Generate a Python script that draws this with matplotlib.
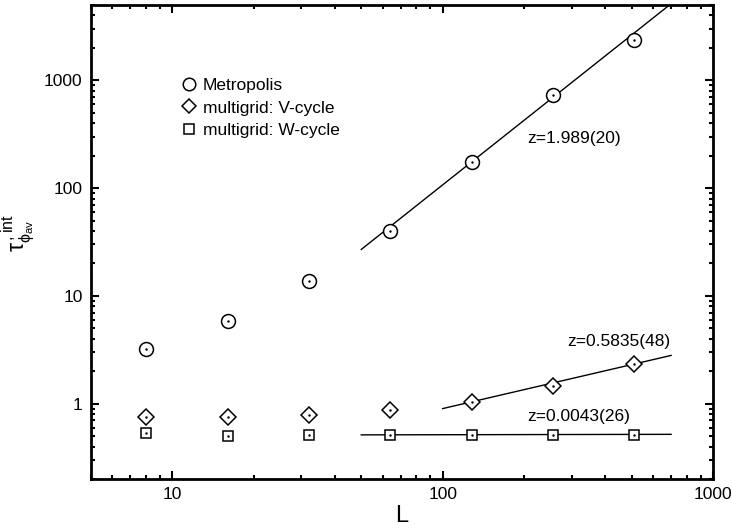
import matplotlib
matplotlib.use('Agg')
import matplotlib.pyplot as plt
import numpy as np
from matplotlib.ticker import FixedLocator, NullFormatter, LogLocator

plt.rcParams['font.family'] = ['Liberation Sans', 'DejaVu Sans']
plt.rcParams['mathtext.fontset'] = 'dejavusans'

# data
L = [8, 16, 32, 64, 128, 256, 512]
tau_metropolis = [3.24, 5.8, 13.6, 40.4, 173, 724, 2346]
tau_vcycle = [0.757, 0.76, 0.79, 0.88, 1.04, 1.47, 2.35]
tau_wcycle = [0.53, 0.505, 0.51, 0.51, 0.515, 0.515, 0.515]

# power-law fits tau = A * L^z, with the range each fit line is drawn over
fit_metropolis = (0.01127, 1.989, 50, 720)
fit_vcycle = (0.0613, 0.5835, 100, 700)
fit_wcycle = (0.505, 0.0043, 50, 700)

fig = plt.figure(figsize=(7.32, 5.30), dpi=100)
ax = fig.add_axes([0.1243, 0.0962, 0.8497, 0.8944])

mk = dict(linestyle='none', markerfacecolor='white', markeredgecolor='black', markeredgewidth=1.1)
ax.plot(L, tau_metropolis, marker='o', markersize=10, label='Metropolis', **mk)
ax.plot(L, tau_vcycle, marker='D', markersize=8, label='multigrid: V-cycle', **mk)
ax.plot(L, tau_wcycle, marker='s', markersize=7.5, label='multigrid: W-cycle', **mk)
# tiny error bars show up as dots in the centre of the symbols
for ys in (tau_metropolis, tau_vcycle, tau_wcycle):
    ax.plot(L, ys, linestyle='none', marker='.', markersize=1.5, color='black')

for A, z, lo, hi in (fit_metropolis, fit_vcycle, fit_wcycle):
    xs = np.array([lo, hi])
    ax.plot(xs, A * xs**z, color='black', linewidth=1.0, zorder=1)

ax.text(206, 289, 'z=1.989(20)', fontsize=12.5, va='center')
ax.text(288, 3.76, 'z=0.5835(48)', fontsize=12.5, va='center')
ax.text(206, 0.757, 'z=0.0043(26)', fontsize=12.5, va='center')

ax.set_xscale('log')
ax.set_yscale('log')
ax.set_xlim(5, 1000)
ax.set_ylim(0.2, 5000)

ax.xaxis.set_major_locator(FixedLocator([10, 100, 1000]))
ax.yaxis.set_major_locator(FixedLocator([1, 10, 100, 1000]))
ax.xaxis.set_minor_locator(LogLocator(base=10, subs=np.arange(2, 10)))
ax.yaxis.set_minor_locator(LogLocator(base=10, subs=np.arange(2, 10)))
ax.xaxis.set_minor_formatter(NullFormatter())
ax.yaxis.set_minor_formatter(NullFormatter())
ax.set_xticklabels(['10', '100', '1000'])
ax.set_yticklabels(['1', '10', '100', '1000'])

ax.tick_params(which='both', direction='in', top=True, right=True, width=1.5, labelsize=12.5)
ax.tick_params(which='major', length=6, pad=6)
ax.tick_params(which='minor', length=3)
for s in ax.spines.values():
    s.set_linewidth(2)

ax.set_xlabel('L', fontsize=17, labelpad=2)
ax.set_ylabel(r'$\mathregular{\tau_{\phi_{av}}^{\,,int}}$', fontsize=16.5)
ax.yaxis.set_label_coords(-0.088, 0.52)

leg = ax.legend(loc='upper left', bbox_to_anchor=(0.135, 0.86), frameon=False, fontsize=12.5,
                handletextpad=0.4, labelspacing=0.4, handlelength=0.8, borderaxespad=0,
                markerscale=0.9)

fig.savefig('out.png', dpi=100)
